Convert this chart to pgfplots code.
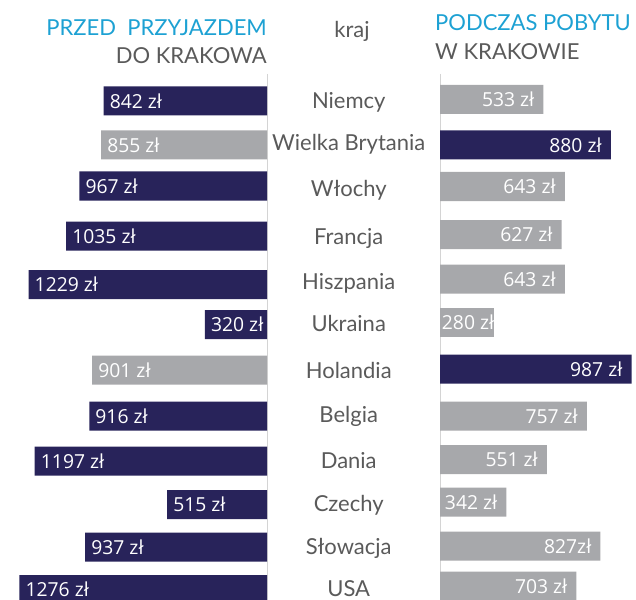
\documentclass[border=0pt]{standalone}
\usepackage{fontspec}
\setmainfont{Lato}
\newfontfamily\valfont{Open Sans}
\usepackage{pgfplots}
\pgfplotsset{compat=1.18}
\definecolor{navy}{RGB}{40,35,90}
\definecolor{bargray}{RGB}{167,168,171}
\definecolor{titleblue}{RGB}{29,161,211}
\definecolor{textgray}{RGB}{90,90,90}
\definecolor{linegray}{RGB}{212,212,212}

\pgfplotsset{
  rowbars/.style={
    scale only axis, xbar, bar width=29, bar shift=0pt,
    y dir=reverse, ymin=74, ymax=610, height=536pt,
    axis line style={draw=none}, tick style={draw=none},
    xtick=\empty, clip=false,
    point meta=explicit symbolic,
    nodes near coords={\pgfplotspointmeta},
    every node near coord/.append style={text=white, inner sep=0pt,
      font=\valfont\fontsize{19.3}{20}\selectfont},
  },
}

\begin{document}
\begin{tikzpicture}
\path[use as bounding box] (0,0) rectangle (636pt,599pt);

% przed przyjazdem (bars grow to the left)
\begin{axis}[rowbars, at={(0pt,525pt)}, anchor=north west,
  width=267pt, x dir=reverse, xmin=0, xmax=1376, ytick=\empty,
  every node near coord/.append style={anchor=west, xshift=6pt}]
  \draw[linegray, line width=1pt] (axis cs:0,74) -- (axis cs:0,610);
  \addplot[fill=navy, draw=none] coordinates {
    (842,101) [842 zł] (967,186) [967 zł] (1035,236) [1035 zł]
    (1229,284.5) [1229 zł] (320,324.5) [320 zł] (916,416) [916 zł]
    (1197,461) [1197 zł] (515,504.5) [515 zł] (937,547) [937 zł]
    (1276,589.5) [1276 zł]
  };
  \addplot[fill=bargray, draw=none] coordinates {
    (855,145) [855 zł] (901,370) [901 zł]
  };
\end{axis}

% podczas pobytu (bars grow to the right)
\begin{axis}[rowbars, at={(440pt,525pt)}, anchor=north west,
  width=196pt, xmin=0, xmax=1010,
  ytick={101,143,188,236,281,323,370,414,460,503,546,588},
  yticklabels={Niemcy,Wielka Brytania,Włochy,Francja,Hiszpania,Ukraina,Holandia,Belgia,Dania,Czechy,Słowacja,USA},
  yticklabel style={anchor=base, xshift=-87pt, yshift=-8pt, inner sep=0pt,
    text=textgray, font=\fontsize{22}{26}\selectfont},
  every node near coord/.append style={anchor=east, xshift=-9pt}]
  \draw[linegray, line width=1pt] (axis cs:0,74) -- (axis cs:0,610);
  \addplot[fill=bargray, draw=none] coordinates {
    (533,99.5) [533 zł] (643,186.5) [643 zł] (627,234.5) [627 zł]
    (643,279) [643 zł] (757,416) [757 zł] (551,459.5) [551 zł]
    (342,502) [342 zł] (827,546) [827zł] (703,586) [703 zł]
  };
  \addplot[fill=bargray, draw=none,
    every node near coord/.append style={xshift=9pt}] coordinates {
    (280,322.5) [280 zł]
  };
  \addplot[fill=navy, draw=none] coordinates {
    (880,145) [880 zł] (987,369) [987 zł]
  };
\end{axis}

\begin{scope}[every node/.style={inner sep=0pt, font=\fontsize{22}{26}\selectfont}]
  \node[anchor=base east, text=titleblue] at (267pt,563pt) {PRZED\ \ PRZYJAZDEM};
  \node[anchor=base east, text=textgray] at (267pt,535.7pt) {DO KRAKOWA};
  \node[anchor=base, text=textgray] at (352pt,561.7pt) {kraj};
  \node[anchor=base west, text=titleblue] at (435pt,568pt) {PODCZAS POBYTU};
  \node[anchor=base west, text=textgray] at (435pt,539.7pt) {W KRAKOWIE};
\end{scope}
\end{tikzpicture}
\end{document}
